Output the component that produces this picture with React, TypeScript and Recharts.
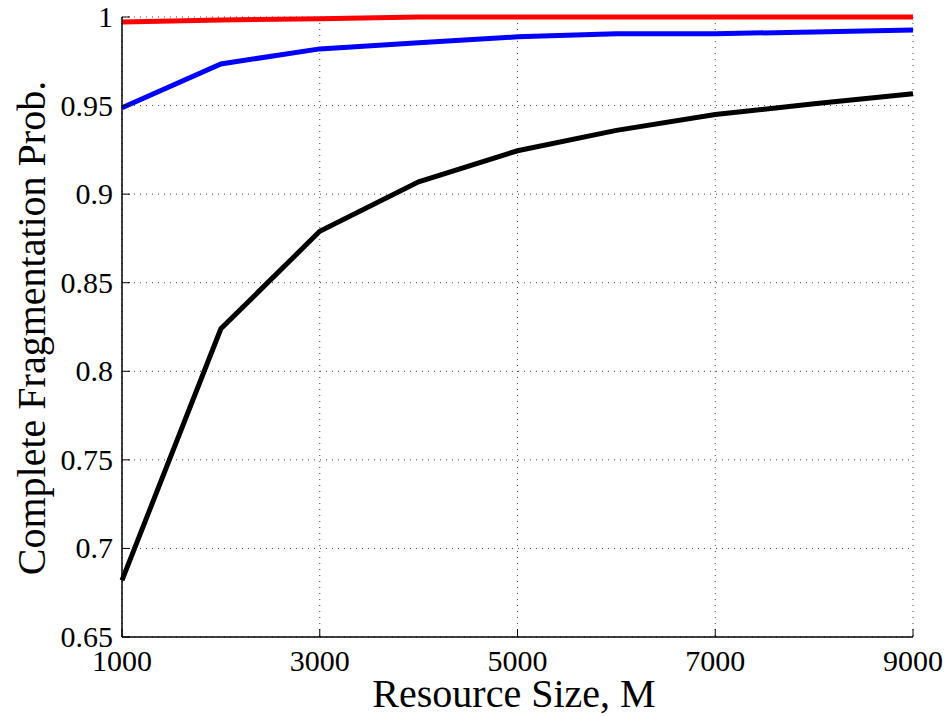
import { CartesianGrid, Line, LineChart, XAxis, YAxis } from "recharts";

const resourceSizes = [1000, 2000, 3000, 4000, 5000, 6000, 7000, 8000, 9000];
const redProb = [0.9972, 0.9983, 0.999, 1.0, 1.0, 1.0, 1.0, 1.0, 1.0];
const blueProb = [0.9488, 0.9735, 0.982, 0.9854, 0.9888, 0.9905, 0.9905, 0.9916, 0.9927];
const blackProb = [0.682, 0.824, 0.879, 0.907, 0.9245, 0.936, 0.945, 0.951, 0.9567];

const xTicks = [1000, 3000, 5000, 7000, 9000];
const yTicks = [0.65, 0.7, 0.75, 0.8, 0.85, 0.9, 0.95, 1];

const data = resourceSizes.map((m, i) => ({
  m,
  red: redProb[i],
  blue: blueProb[i],
  black: blackProb[i]
}));

const serif = "Liberation Serif, DejaVu Serif, serif";
const TICK_GAP = 12;
const Y_GAP = 9;
const TICK_LEN = 8;

// text + inward tick mark, matlab style
function XTick(props: any) {
  const { x, y, payload } = props;
  const axisY = y - TICK_GAP;
  return (
    <g>
      <line x1={x} x2={x} y1={axisY} y2={axisY - TICK_LEN} stroke="#000" strokeWidth={1} />
      <text x={x} y={y + 22} textAnchor="middle" fontSize={30} fontFamily={serif} fill="#000">
        {payload.value}
      </text>
    </g>
  );
}

function YTick(props: any) {
  const { x, y, payload } = props;
  const axisX = x + Y_GAP;
  return (
    <g>
      <line x1={axisX} x2={axisX + TICK_LEN} y1={y} y2={y} stroke="#000" strokeWidth={1} />
      <text x={x} y={y + 10} textAnchor="end" fontSize={30} fontFamily={serif} fill="#000">
        {payload.value}
      </text>
    </g>
  );
}

function TopTick(props: any) {
  const { x, y } = props;
  return <line x1={x} x2={x} y1={y} y2={y + TICK_LEN} stroke="#000" strokeWidth={1} />;
}

function RightTick(props: any) {
  const { x, y } = props;
  return <line x1={x} x2={x - TICK_LEN} y1={y} y2={y} stroke="#000" strokeWidth={1} />;
}

export default function App() {
  return (
    <div
      style={{
        position: "absolute",
        left: 0,
        top: 0,
        width: 947,
        height: 716,
        background: "#fff",
        fontFamily: serif
      }}
    >
      <LineChart width={947} height={716} data={data} margin={{ top: 17, right: 34, bottom: 0, left: 0 }}>
        <CartesianGrid stroke="#444" strokeDasharray="1 5" strokeWidth={1} />
        <XAxis
          dataKey="m"
          type="number"
          domain={[1000, 9000]}
          ticks={xTicks}
          height={79}
          tickSize={0}
          tickMargin={TICK_GAP}
          tickLine={false}
          axisLine={{ stroke: "#000", strokeWidth: 1.5 }}
          tick={<XTick />}
          label={{
            content: () => (
              <text x={514} y={707} textAnchor="middle" fontSize={40} fontFamily={serif} fill="#000">
                Resource Size, M
              </text>
            )
          }}
        />
        <XAxis
          xAxisId="top"
          orientation="top"
          dataKey="m"
          type="number"
          domain={[1000, 9000]}
          ticks={xTicks}
          height={0}
          tickSize={0}
          tickMargin={0}
          tickLine={false}
          tick={<TopTick />}
          axisLine={{ stroke: "#000", strokeWidth: 1.5 }}
        />
        <YAxis
          type="number"
          domain={[0.65, 1]}
          ticks={yTicks}
          width={122}
          tickSize={0}
          tickMargin={Y_GAP}
          tickLine={false}
          axisLine={{ stroke: "#000", strokeWidth: 1.5 }}
          tick={<YTick />}
          label={{
            content: () => (
              <text
                transform="translate(45,328) rotate(-90)"
                textAnchor="middle"
                fontSize={40}
                fontFamily={serif}
                fill="#000"
              >
                Complete Fragmentation Prob.
              </text>
            )
          }}
        />
        <YAxis
          yAxisId="right"
          orientation="right"
          type="number"
          domain={[0.65, 1]}
          ticks={yTicks}
          width={0}
          tickSize={0}
          tickMargin={0}
          tickLine={false}
          tick={<RightTick />}
          axisLine={{ stroke: "#000", strokeWidth: 1.5 }}
        />
        <Line type="linear" dataKey="black" stroke="#000000" strokeWidth={5} dot={false} isAnimationActive={false} />
        <Line type="linear" dataKey="blue" stroke="#0000ff" strokeWidth={5} dot={false} isAnimationActive={false} />
        <Line type="linear" dataKey="red" stroke="#ff0000" strokeWidth={5} dot={false} isAnimationActive={false} />
      </LineChart>
    </div>
  );
}
